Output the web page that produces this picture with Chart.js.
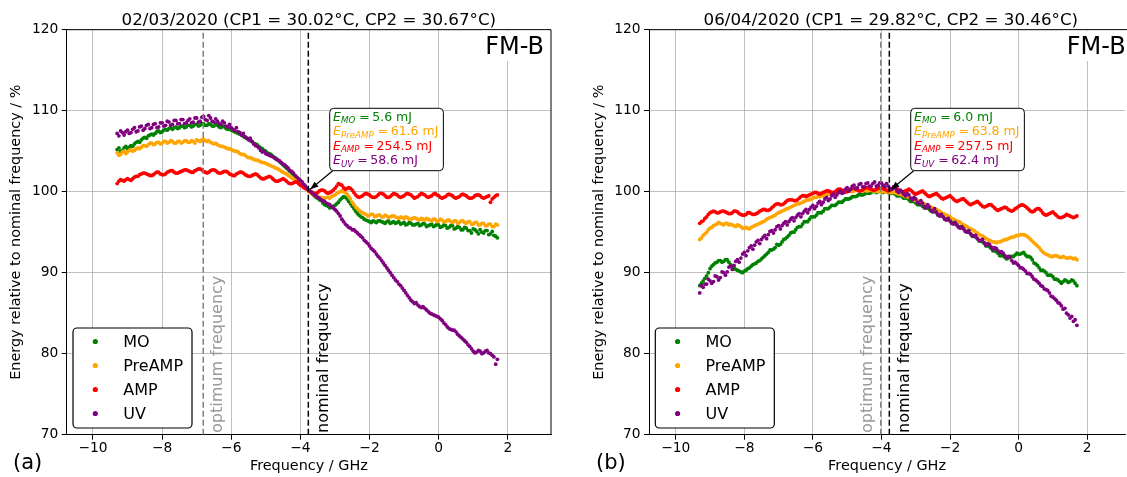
<!DOCTYPE html>
<html><head><meta charset="utf-8">
<script src="https://cdn.jsdelivr.net/npm/chart.js@4.4.1/dist/chart.umd.min.js"></script>
<style>html,body{margin:0;padding:0;background:#fff;}#wrap{position:relative;width:1127px;height:477px;background:#fff;overflow:hidden}canvas{position:absolute;top:0}#err{position:absolute;left:0;top:0;color:red;font:12px sans-serif}</style>
</head><body>
<div id="wrap"><canvas id="c1" width="585" height="477" style="left:0"></canvas><canvas id="c2" width="542" height="477" style="left:585px"></canvas><div id="err"></div></div>
<script>
const freq = [-9.3,-9.25,-9.2,-9.15,-9.1,-9.05,-9,-8.95,-8.9,-8.85,
-8.8,-8.75,-8.7,-8.65,-8.6,-8.55,-8.5,-8.45,-8.4,-8.35,
-8.3,-8.25,-8.2,-8.15,-8.1,-8.05,-8,-7.95,-7.9,-7.85,
-7.8,-7.75,-7.7,-7.65,-7.6,-7.55,-7.5,-7.45,-7.4,-7.35,
-7.3,-7.25,-7.2,-7.15,-7.1,-7.05,-7,-6.95,-6.9,-6.85,
-6.8,-6.75,-6.7,-6.65,-6.6,-6.55,-6.5,-6.45,-6.4,-6.35,
-6.3,-6.25,-6.2,-6.15,-6.1,-6.05,-6,-5.95,-5.9,-5.85,
-5.8,-5.75,-5.7,-5.65,-5.6,-5.55,-5.5,-5.45,-5.4,-5.35,
-5.3,-5.25,-5.2,-5.15,-5.1,-5.05,-5,-4.95,-4.9,-4.85,
-4.8,-4.75,-4.7,-4.65,-4.6,-4.55,-4.5,-4.45,-4.4,-4.35,
-4.3,-4.25,-4.2,-4.15,-4.1,-4.05,-4,-3.95,-3.9,-3.85,
-3.8,-3.75,-3.7,-3.65,-3.6,-3.55,-3.5,-3.45,-3.4,-3.35,
-3.3,-3.25,-3.2,-3.15,-3.1,-3.05,-3,-2.95,-2.9,-2.85,
-2.8,-2.75,-2.7,-2.65,-2.6,-2.55,-2.5,-2.45,-2.4,-2.35,
-2.3,-2.25,-2.2,-2.15,-2.1,-2.05,-2,-1.95,-1.9,-1.85,
-1.8,-1.75,-1.7,-1.65,-1.6,-1.55,-1.5,-1.45,-1.4,-1.35,
-1.3,-1.25,-1.2,-1.15,-1.1,-1.05,-1,-0.95,-0.9,-0.85,
-0.8,-0.75,-0.7,-0.65,-0.6,-0.55,-0.5,-0.45,-0.4,-0.35,
-0.3,-0.25,-0.2,-0.15,-0.1,-0.05,0,0.05,0.1,0.15,
0.2,0.25,0.3,0.35,0.4,0.45,0.5,0.55,0.6,0.65,
0.7,0.75,0.8,0.85,0.9,0.95,1,1.05,1.1,1.15,
1.2,1.25,1.3,1.35,1.4,1.45,1.5,1.55,1.6,1.65,
1.7];

const seriesNames = ['MO','PreAMP','AMP','UV'];
const seriesColors = ['#008000','#ffa500','#ff0000','#800080'];

// Panel (a) 02/03/2020
const moA = [105.2,105.4,105.0,105.1,105.4,105.6,105.3,105.5,105.7,105.6,
105.9,106.1,106.2,106.1,106.4,106.6,106.7,106.6,106.9,107.0,
107.1,107.0,107.2,107.4,107.5,107.3,107.4,107.6,107.7,107.6,
107.8,107.9,107.7,107.9,108.0,107.8,107.9,108.1,108.1,107.9,
108.0,108.2,108.2,108.0,108.1,108.3,108.3,108.1,108.2,108.4,
108.4,108.2,108.2,108.4,108.3,108.1,108.1,108.3,108.2,108.0,
107.9,108.1,108.0,107.8,107.7,107.8,107.6,107.5,107.4,107.3,
107.2,107.1,107.0,106.8,106.7,106.6,106.5,106.3,106.2,106.0,
105.9,105.8,105.6,105.4,105.3,105.1,105.0,104.8,104.7,104.6,
104.4,104.2,104.1,103.9,103.7,103.5,103.3,103.1,102.9,102.7,
102.5,102.3,102.1,101.8,101.6,101.4,101.2,101.0,100.8,100.5,
100.3,100.1,99.9,99.7,99.5,99.3,99.2,99.0,98.9,98.6,
98.4,98.3,98.2,98.0,98.1,98.2,98.3,98.5,98.7,99.0,
99.2,99.4,99.3,99.1,98.8,98.5,98.2,97.9,97.6,97.3,
97.1,96.9,96.8,96.6,96.5,96.4,96.3,96.2,96.4,96.3,
96.2,96.4,96.4,96.3,96.2,96.1,96.3,96.4,96.1,96.2,
96.3,96.1,96.2,96.3,96.0,96.1,96.2,95.9,96.0,96.2,
96.1,95.9,95.9,96.0,96.1,95.8,95.9,96.1,96.0,95.7,
95.8,95.9,96.0,95.7,95.8,96.0,95.9,95.6,95.7,95.9,
95.8,95.5,95.6,95.8,95.8,95.4,95.5,95.7,95.6,95.3,
95.3,95.6,95.5,95.2,95.2,94.9,95.4,95.3,95.1,94.8,
95.3,95.0,94.9,95.2,95.2,94.7,94.8,95.1,94.6,94.5,
94.3];
const preA = [104.8,104.5,104.6,104.9,105.0,104.7,104.9,105.1,105.2,105.0,
105.1,105.3,105.4,105.3,105.5,105.7,105.7,105.6,105.8,106.0,
106.0,105.8,105.9,106.1,106.1,105.9,106.0,106.2,106.2,106.0,
106.1,106.3,106.2,106.0,106.0,106.2,106.2,106.0,106.1,106.3,
106.3,106.1,106.1,106.3,106.2,106.0,106.4,106.3,106.2,106.4,
106.5,106.3,106.2,106.3,106.1,106.0,105.9,106.0,105.8,105.7,
105.6,105.6,105.5,105.4,105.3,105.3,105.2,105.1,105.0,105.0,
104.9,104.7,104.6,104.6,104.5,104.3,104.2,104.2,104.1,104.0,
103.9,103.9,103.8,103.7,103.6,103.6,103.5,103.4,103.3,103.2,
103.1,103.0,102.9,102.8,102.7,102.5,102.4,102.3,102.2,102.0,
101.9,101.7,101.6,101.4,101.3,101.1,101.0,100.8,100.6,100.4,
100.2,100.0,99.9,99.7,99.6,99.5,99.4,99.3,99.3,99.2,
99.2,99.3,99.3,99.2,99.4,99.5,99.6,99.8,99.9,100.0,
100.1,100.0,99.9,99.7,99.4,99.1,98.7,98.4,98.1,97.9,
97.7,97.5,97.4,97.3,97.2,97.0,97.1,97.2,97.2,96.9,
97.0,97.1,97.1,96.9,96.9,97.1,97.0,96.8,96.9,97.0,
97.0,96.9,96.8,96.7,96.9,96.8,96.7,96.9,96.8,96.6,
96.6,96.7,96.8,96.7,96.6,96.5,96.7,96.6,96.5,96.7,
96.6,96.5,96.4,96.6,96.6,96.3,96.4,96.6,96.5,96.3,
96.3,96.5,96.5,96.3,96.2,96.4,96.4,96.1,96.2,96.4,
96.4,96.2,96.1,96.3,96.3,96.0,96.0,96.2,96.2,95.9,
95.9,96.1,96.1,95.8,95.8,96.0,96.0,95.7,95.7,96.0,
95.9];
const ampA = [101.0,101.3,101.5,101.4,101.3,101.5,101.6,101.5,101.4,101.6,
101.8,101.9,101.9,102.1,102.2,102.3,102.3,102.2,102.1,102.0,
102.0,102.1,102.3,102.4,102.4,102.2,102.1,102.1,102.2,102.4,
102.5,102.6,102.6,102.4,102.3,102.3,102.4,102.5,102.6,102.7,
102.7,102.6,102.5,102.4,102.4,102.6,102.7,102.8,102.8,102.7,
102.5,102.4,102.3,102.4,102.6,102.7,102.7,102.6,102.4,102.3,
102.3,102.4,102.5,102.5,102.4,102.2,102.1,102.0,102.0,102.2,
102.3,102.4,102.4,102.3,102.1,102.0,101.9,101.9,102.0,102.1,
102.2,102.1,101.9,101.7,101.6,101.6,101.7,101.8,101.9,101.8,
101.6,101.4,101.3,101.3,101.4,101.5,101.6,101.5,101.3,101.1,
101.0,101.0,101.1,101.2,101.2,101.0,100.8,100.7,100.5,100.4,
100.3,100.1,100.0,99.9,99.8,99.8,99.9,100.1,100.2,100.2,
100.1,99.9,99.8,99.9,100.0,100.2,100.4,100.7,101.0,100.9,
100.8,100.5,100.3,100.4,100.5,100.4,100.2,99.9,99.6,99.4,
99.3,99.4,99.5,99.7,99.8,99.7,99.6,99.4,99.3,99.3,
99.4,99.6,99.8,99.8,99.7,99.5,99.3,99.3,99.4,99.6,
99.8,99.7,99.6,99.4,99.3,99.4,99.5,99.7,99.8,99.7,
99.6,99.4,99.2,99.3,99.4,99.6,99.8,99.7,99.6,99.4,
99.3,99.4,99.5,99.7,99.8,99.6,99.5,99.3,99.2,99.3,
99.4,99.6,99.7,99.6,99.5,99.3,99.2,99.3,99.4,99.6,
99.7,99.6,99.5,99.3,99.2,99.2,99.3,99.5,99.6,99.6,
99.5,99.3,99.2,99.3,99.4,99.5,98.7,99.1,99.3,99.5,
99.6];
const uvA = [107.2,106.9,107.5,107.3,107.0,107.4,107.6,107.2,107.3,107.7,
107.9,107.4,107.5,108.0,108.1,107.6,107.8,108.2,108.3,107.8,
107.9,108.3,108.4,107.9,108.0,108.5,108.5,108.1,108.2,108.7,
108.6,108.2,108.3,108.8,108.8,108.4,108.4,108.9,108.9,108.4,
108.5,108.8,109.0,108.5,108.6,109.1,109.1,108.6,108.7,109.2,
109.3,108.9,108.8,109.4,109.1,108.7,108.6,109.0,108.7,108.4,
108.3,108.7,108.5,108.1,108.0,108.3,107.9,107.7,107.6,107.9,
107.4,107.3,107.0,107.2,106.8,106.6,106.4,106.6,106.2,105.9,
105.7,105.6,105.4,105.1,104.9,105.0,104.7,104.6,104.5,104.4,
104.3,104.2,104.0,103.9,103.8,103.6,103.4,103.3,103.1,102.9,
102.6,102.5,102.3,102.0,101.8,101.6,101.4,101.2,100.9,100.7,
100.4,100.2,100.0,99.8,99.6,99.5,99.3,99.2,99.0,98.9,
98.8,98.6,98.5,98.4,98.2,98.0,97.8,97.6,97.3,97.0,
96.6,96.3,96.0,95.8,95.6,95.5,95.3,95.3,95.1,94.9,
94.7,94.5,94.3,94.0,93.8,93.6,93.3,93.0,92.8,92.6,
92.3,92.0,91.8,91.5,91.2,90.9,90.6,90.3,90.0,89.7,
89.4,89.1,88.9,88.6,88.4,88.1,87.8,87.5,87.2,86.9,
86.6,86.4,86.2,86.3,86.0,85.8,85.7,85.8,85.6,85.4,
85.2,85.0,84.9,84.8,84.7,84.6,84.5,84.3,84.1,83.8,
83.6,83.3,83.1,83.0,82.9,82.9,82.7,82.4,82.2,82.0,
81.8,81.6,81.4,81.1,80.9,80.6,80.3,80.1,80.2,80.4,
80.3,80.0,80.1,80.3,80.4,80.1,80.0,79.8,79.6,78.7,
79.3];

// Panel (b) 06/04/2020
const moB = [88.4,88.7,89.0,89.3,89.6,90.0,90.5,90.8,91.0,91.2,
91.3,91.5,91.5,91.3,91.4,91.6,91.6,91.3,91.0,90.8,
90.6,90.4,90.3,90.2,90.1,90.0,90.2,90.3,90.5,90.6,
90.8,91.0,91.1,91.2,91.4,91.5,91.7,91.9,92.1,92.3,
92.5,92.8,92.8,92.9,93.1,93.5,93.4,93.5,93.8,94.1,
94.2,94.4,94.6,94.9,95.0,95.0,95.3,95.6,95.7,95.7,
96.0,96.3,96.3,96.3,96.6,96.9,96.9,96.9,97.1,97.4,
97.4,97.4,97.6,97.9,97.9,97.9,98.1,98.3,98.3,98.3,
98.5,98.7,98.7,98.7,98.9,99.1,99.1,99.1,99.2,99.4,
99.4,99.4,99.5,99.7,99.6,99.6,99.7,99.9,99.8,99.8,
99.9,100.1,100.0,99.9,100.0,100.1,100.0,99.9,100.0,100.1,
99.9,99.8,99.8,99.8,99.7,99.5,99.5,99.6,99.4,99.2,
99.2,99.2,99.0,98.8,98.8,98.8,98.6,98.4,98.4,98.4,
98.2,98.0,98.0,98.0,97.8,97.6,97.6,97.6,97.4,97.1,
97.1,97.1,96.9,96.6,96.6,96.6,96.4,96.2,96.2,96.1,
95.9,95.7,95.7,95.6,95.4,95.1,95.1,95.0,94.8,94.5,
94.5,94.4,94.2,93.9,93.9,93.8,93.6,93.3,93.3,93.2,
93.0,92.7,92.7,92.6,92.4,92.1,92.1,92.1,91.9,91.7,
91.8,92.0,92.0,92.0,92.2,92.4,92.3,92.3,92.4,92.5,
92.2,92.0,92.0,91.9,91.6,91.2,91.1,90.9,90.6,90.3,
90.3,90.2,90.0,89.7,89.7,89.7,89.5,89.2,89.2,89.1,
88.9,88.7,88.9,89.1,89.0,88.8,88.9,89.1,89.0,88.7,
88.4];
const preB = [94.1,94.3,94.6,94.8,95.0,95.3,95.5,95.6,95.8,95.9,
96.0,96.2,96.1,96.0,95.9,96.1,96.1,95.9,96.0,95.9,
95.8,95.7,95.9,95.8,95.7,95.5,95.5,95.6,95.5,95.4,
95.6,95.7,95.8,95.9,96.0,96.1,96.2,96.3,96.4,96.6,
96.7,96.8,96.9,97.0,97.1,97.3,97.4,97.5,97.6,97.7,
97.8,97.9,98.0,98.1,98.2,98.3,98.4,98.5,98.5,98.6,
98.7,98.8,98.9,99.0,99.0,99.1,99.2,99.3,99.3,99.4,
99.4,99.5,99.5,99.6,99.6,99.7,99.7,99.8,99.8,99.8,
99.9,99.9,99.9,100.0,100.0,100.0,100.0,100.1,100.1,100.0,
100.1,100.2,100.2,100.1,100.1,100.2,100.2,100.1,100.1,100.2,
100.2,100.1,100.1,100.0,100.1,100.1,100.0,100.0,100.0,100.0,
100.0,99.9,99.9,99.9,99.9,99.8,99.7,99.7,99.6,99.5,
99.4,99.4,99.3,99.2,99.1,99.0,98.9,98.9,98.8,98.7,
98.6,98.5,98.4,98.3,98.2,98.1,98.0,97.9,97.8,97.7,
97.6,97.4,97.3,97.2,97.1,97.0,96.9,96.7,96.6,96.5,
96.4,96.3,96.2,96.0,95.9,95.8,95.7,95.5,95.4,95.3,
95.2,95.0,94.9,94.7,94.6,94.5,94.4,94.2,94.1,94.0,
93.9,93.8,93.8,93.7,93.8,93.8,93.9,94.0,94.1,94.1,
94.2,94.3,94.4,94.4,94.5,94.6,94.6,94.7,94.7,94.7,
94.6,94.5,94.3,94.1,93.9,93.7,93.5,93.3,93.1,92.8,
92.6,92.4,92.3,92.2,92.1,92.0,92.0,92.1,92.1,92.0,
91.9,91.9,92.0,91.9,91.8,91.8,91.9,91.8,91.7,91.8,
91.6];
const ampB = [96.1,96.3,96.4,96.7,96.9,97.2,97.4,97.5,97.6,97.5,
97.4,97.4,97.5,97.6,97.6,97.5,97.4,97.3,97.3,97.4,
97.6,97.6,97.5,97.3,97.2,97.1,97.1,97.2,97.4,97.4,
97.3,97.2,97.2,97.3,97.4,97.6,97.7,97.8,97.8,97.7,
97.7,97.8,98.0,98.2,98.4,98.5,98.5,98.4,98.4,98.5,
98.7,98.9,99.0,99.0,99.0,98.9,98.9,99.0,99.2,99.4,
99.5,99.5,99.4,99.5,99.6,99.7,99.8,99.9,99.9,99.8,
99.7,99.8,99.9,100.0,100.1,100.1,100.0,99.9,99.9,100.0,
100.2,100.3,100.3,100.2,100.1,100.0,100.0,100.1,100.3,100.4,
100.4,100.3,100.2,100.1,100.1,100.2,100.4,100.5,100.5,100.4,
100.3,100.2,100.2,100.3,100.4,100.5,100.5,100.4,100.3,100.2,
100.1,100.2,100.3,100.4,100.5,100.4,100.2,100.1,100.0,100.0,
100.1,100.2,100.3,100.2,100.0,99.8,99.7,99.8,99.9,100.0,
100.1,99.9,99.7,99.5,99.4,99.5,99.6,99.7,99.8,99.6,
99.4,99.2,99.1,99.2,99.3,99.4,99.5,99.3,99.1,98.9,
98.8,98.9,99.0,99.1,99.1,98.9,98.7,98.5,98.4,98.5,
98.6,98.7,98.8,98.6,98.4,98.2,98.1,98.2,98.3,98.4,
98.4,98.2,98.0,97.8,97.7,97.8,97.9,98.0,98.1,98.0,
97.8,97.7,97.6,97.7,97.9,98.0,98.2,98.3,98.4,98.3,
98.2,98.0,97.8,97.6,97.5,97.6,97.8,97.9,97.9,97.7,
97.4,97.2,97.1,97.2,97.3,97.4,97.5,97.3,97.1,96.9,
96.8,96.8,96.9,97.0,97.2,97.1,97.0,96.9,96.8,96.9,
97.0];
const uvB = [87.5,88.4,88.2,88.6,88.6,89.2,89.0,88.7,88.9,89.6,
89.5,89.1,89.4,90.1,90.0,89.7,90.1,90.7,90.8,90.4,
90.9,91.4,91.6,91.3,91.8,92.3,92.5,92.1,92.7,93.1,
93.3,92.9,93.4,93.8,94.0,93.6,94.1,94.4,94.6,94.2,
94.7,95.1,95.2,94.9,95.3,95.7,95.8,95.4,95.8,96.1,
96.3,95.9,96.3,96.6,96.8,96.4,96.8,97.1,97.3,96.9,
97.3,97.6,97.8,97.4,97.8,98.1,98.3,97.9,98.2,98.6,
98.8,98.4,98.7,99.1,99.3,98.9,99.1,99.5,99.7,99.3,
99.6,99.9,100.1,99.8,99.9,100.3,100.5,100.1,100.3,100.7,
100.8,100.4,100.5,100.9,101.0,100.6,100.6,101.0,101.1,100.7,
100.7,101.0,101.2,100.7,100.8,101.1,101.1,100.8,100.6,101.0,
100.7,100.4,100.3,100.6,100.4,100.1,99.9,100.2,100.0,99.7,
99.5,99.8,99.6,99.2,99.0,99.3,99.1,98.7,98.5,98.9,
98.6,98.2,98.0,98.4,98.1,97.7,97.5,97.9,97.5,97.2,
97.0,97.2,96.9,96.6,96.5,96.7,96.4,96.1,96.0,96.2,
95.9,95.6,95.5,95.7,95.4,95.1,95.0,95.2,94.8,94.6,
94.5,94.6,94.2,94.0,94.0,94.1,93.7,93.4,93.6,93.5,
93.2,92.9,93.1,93.0,92.7,92.5,92.6,92.4,92.1,91.9,
92.0,91.9,91.5,91.2,91.3,91.1,90.9,90.6,90.6,90.4,
90.2,89.9,89.9,89.8,89.5,89.2,89.1,88.9,88.7,88.4,
88.3,88.0,87.9,87.8,87.5,87.1,87.0,86.8,86.6,86.3,
86.2,85.9,85.5,85.6,85.0,84.8,84.4,84.6,84.0,84.2,
83.5];

const energiesA = [5.6, 61.6, 254.5, 58.6];
const energiesB = [6.0, 63.8, 257.5, 62.4];
const titleA = '02/03/2020 (CP1 = 30.02°C, CP2 = 30.67°C)';
const titleB = '06/04/2020 (CP1 = 29.82°C, CP2 = 30.46°C)';
const optimumA = -6.81, optimumB = -4.02, nominalFreq = -3.77;

const xTicks = [-10,-8,-6,-4,-2,0,2];
const xTickLabels = ['\u221210','\u22128','\u22126','\u22124','\u22122','0','2'];
const yTicks = [70,80,90,100,110,120];
const yTickLabels = ['70','80','90','100','110','120'];

const FONT = '"DejaVu Sans", sans-serif';

[moA,preA,ampA,uvA,moB,preB,ampB,uvB].forEach((a,i)=>{ if (a.length !== freq.length) document.getElementById('err').textContent += ' len'+i+'='+a.length; });

function rr(ctx,x,y,w,h,r){ctx.beginPath();ctx.moveTo(x+r,y);ctx.lineTo(x+w-r,y);ctx.arcTo(x+w,y,x+w,y+r,r);ctx.lineTo(x+w,y+h-r);ctx.arcTo(x+w,y+h,x+w-r,y+h,r);ctx.lineTo(x+r,y+h);ctx.arcTo(x,y+h,x,y+h-r,r);ctx.lineTo(x,y+r);ctx.arcTo(x,y,x+r,y,r);ctx.closePath();}

const decor = {
  id: 'decor',
  afterDraw(chart, args, o) {
    const ctx = chart.ctx, ca = chart.chartArea, xs = chart.scales.x, ys = chart.scales.y;
    ctx.save();
    ctx.strokeStyle = '#000'; ctx.lineWidth = 1;
    ctx.beginPath();
    ctx.moveTo(ca.left, ca.top);
    ctx.lineTo(o.rightSpine ? ca.right : chart.width, ca.top);
    if (o.rightSpine) ctx.lineTo(ca.right, ca.bottom);
    ctx.stroke();
    ctx.fillStyle = '#000'; ctx.textBaseline = 'alphabetic';
    ctx.font = '16.7px ' + FONT; ctx.textAlign = 'center';
    ctx.fillText(o.title, (ca.left + o.fullRight) / 2, 25);
    ctx.font = '24px ' + FONT;
    const fw = ctx.measureText('FM-B').width, fr = o.fullRight - 7;
    ctx.fillStyle = '#fff'; ctx.fillRect(fr - fw - 4, ca.top + 1, fw + 8, 61 - ca.top - 1);
    ctx.fillStyle = '#000'; ctx.textAlign = 'right'; ctx.fillText('FM-B', fr, 54);
    ctx.textAlign = 'left'; ctx.font = '21px ' + FONT; ctx.fillText(o.panel, o.panelX, 469);
    ctx.font = '16px ' + FONT;
    const po = xs.getPixelForValue(o.opt), pn = xs.getPixelForValue(o.nom);
    const labs = [[o.optLeft ? po - 8.5 : po + 19, '#999999', 'optimum frequency'], [pn + 19.5, '#000000', 'nominal frequency']];
    labs.forEach(([bx, col, txt]) => {
      ctx.save(); ctx.translate(bx, 433); ctx.rotate(-Math.PI / 2);
      ctx.fillStyle = col; ctx.textAlign = 'left'; ctx.fillText(txt, 0, 0); ctx.restore();
    });
    const py = ys.getPixelForValue(100);
    const bx = pn + 21.4, by = py - 83.4;
    const lines = seriesNames.map((n, k) => ({n, col: seriesColors[k], rest: ' =\u2009' + o.energies[k].toFixed(1) + ' mJ'}));
    let maxW = 0;
    lines.forEach(l => {
      ctx.font = 'italic 12.5px ' + FONT; const a = ctx.measureText('E').width;
      ctx.font = 'italic 8.7px ' + FONT; const b = ctx.measureText(l.n).width;
      ctx.font = '12.5px ' + FONT; const c = ctx.measureText(l.rest).width;
      l.wa = a; l.wb = b; maxW = Math.max(maxW, a + b + c);
    });
    const bw = maxW + 3.3 + 5, bh = 62.4;
    const tx = pn + 2, ty = py - 2.5, sx = bx + 3, sy = by + bh;
    ctx.strokeStyle = '#000'; ctx.lineWidth = 1.2;
    ctx.beginPath(); ctx.moveTo(sx, sy); ctx.lineTo(tx, ty); ctx.stroke();
    const ang = Math.atan2(ty - sy, tx - sx), hl = 8, hw = 3.2;
    ctx.fillStyle = '#000'; ctx.beginPath(); ctx.moveTo(tx, ty);
    ctx.lineTo(tx - hl * Math.cos(ang) + hw * Math.sin(ang), ty - hl * Math.sin(ang) - hw * Math.cos(ang));
    ctx.lineTo(tx - hl * Math.cos(ang) - hw * Math.sin(ang), ty - hl * Math.sin(ang) + hw * Math.cos(ang));
    ctx.closePath(); ctx.fill();
    rr(ctx, bx, by, bw, bh, 4); ctx.fillStyle = '#fff'; ctx.fill(); ctx.lineWidth = 1; ctx.strokeStyle = '#000'; ctx.stroke();
    lines.forEach((l, i) => {
      const yb = by + 12.4 + i * 14.5; let x = bx + 3.3;
      ctx.fillStyle = l.col; ctx.textAlign = 'left';
      ctx.font = 'italic 12.5px ' + FONT; ctx.fillText('E', x, yb); x += l.wa;
      ctx.font = 'italic 8.7px ' + FONT; ctx.fillText(l.n, x, yb + 2.6); x += l.wb;
      ctx.font = '12.5px ' + FONT; ctx.fillText(l.rest, x, yb);
    });
    const lx = ca.left + 6.3, ly = 328, lw = 119, lh = 100;
    rr(ctx, lx, ly, lw, lh, 4); ctx.fillStyle = '#fff'; ctx.fill(); ctx.strokeStyle = '#000'; ctx.lineWidth = 1.2; ctx.stroke();
    ctx.font = '16px ' + FONT;
    seriesNames.forEach((n, i) => {
      const cy = 341.5 + i * 24;
      ctx.fillStyle = seriesColors[i]; ctx.beginPath(); ctx.arc(lx + 22.3, cy, 2.6, 0, Math.PI * 2); ctx.fill();
      ctx.fillStyle = '#000'; ctx.fillText(n, lx + 50.2, cy + 5.8);
    });
    ctx.restore();
  }
};

function makeChart(id, p) {
  const ds = p.vals.map((v, k) => ({
    label: seriesNames[k],
    data: freq.map((f, i) => ({x: f, y: v[i]})),
    backgroundColor: seriesColors[k], borderWidth: 0,
    pointRadius: 1.9, pointHoverRadius: 1.9, order: 4 - k
  }));
  ds.push({type: 'line', label: 'optimum', data: [{x: p.opt, y: 70}, {x: p.opt, y: 120}], borderColor: '#808080', borderDash: [6, 3], borderWidth: 1.5, pointRadius: 0, showLine: true, order: 0});
  ds.push({type: 'line', label: 'nominal', data: [{x: nominalFreq, y: 70}, {x: nominalFreq, y: 120}], borderColor: '#000000', borderDash: [6, 3], borderWidth: 1.5, pointRadius: 0, showLine: true, order: 0});
  return new Chart(document.getElementById(id), {
    type: 'scatter',
    data: {datasets: ds},
    options: {
      responsive: false, animation: false, devicePixelRatio: 1, events: [],
      layout: {padding: {left: 0, top: 29.7, right: p.padRight, bottom: 0}},
      plugins: {legend: {display: false}, tooltip: {enabled: false}, decor: p.decor},
      scales: {
        x: {
          type: 'linear', min: p.xmin, max: p.xmax,
          afterFit: s => { s.height = 42.3; },
          afterBuildTicks: s => { s.ticks = xTicks.map(v => ({value: v})); },
          grid: {color: '#b0b0b0', lineWidth: 0.8, tickColor: '#000', tickLength: 5, tickWidth: 1},
          border: {display: true, color: '#000', width: 1},
          ticks: {color: '#000', font: {family: 'DejaVu Sans', size: 13.8}, padding: 0, maxRotation: 0, autoSkip: false,
                  callback: (v, i) => xTickLabels[i]},
          title: {display: true, text: 'Frequency / GHz', color: '#000', font: {family: 'DejaVu Sans', size: 14.4}, padding: {top: 0, bottom: 2.3}}
        },
        y: {
          type: 'linear', min: 70, max: 120,
          afterFit: s => { s.width = p.yWidth; },
          afterBuildTicks: s => { s.ticks = yTicks.map(v => ({value: v})); },
          grid: {color: '#b0b0b0', lineWidth: 0.8, tickColor: '#000', tickLength: 5, tickWidth: 1},
          border: {display: true, color: '#000', width: 1},
          ticks: {color: '#000', font: {family: 'DejaVu Sans', size: 13.8}, padding: 3.4, autoSkip: false,
                  callback: (v, i) => yTickLabels[i]},
          title: {display: true, text: 'Energy relative to nominal frequency / %', color: '#000', font: {family: 'DejaVu Sans', size: 14.4}, padding: {top: p.yTitlePad, bottom: 0}}
        }
      }
    },
    plugins: [decor]
  });
}

makeChart('c1', {
  vals: [moA, preA, ampA, uvA], opt: optimumA, xmin: -10.76, xmax: 3.25,
  padRight: 585 - 551, yWidth: 66.7, yTitlePad: 8.1,
  decor: {title: titleA, fullRight: 551, rightSpine: true, panel: '(a)', panelX: 13, opt: optimumA, nom: nominalFreq, optLeft: false, energies: energiesA}
});
makeChart('c2', {
  vals: [moB, preB, ampB, uvB], opt: optimumB, xmin: -10.78, xmax: 3.107,
  padRight: 0, yWidth: 64, yTitlePad: 5.4,
  decor: {title: titleB, fullRight: 1132.6 - 585, rightSpine: false, panel: '(b)', panelX: 11, opt: optimumB, nom: nominalFreq, optLeft: true, energies: energiesB}
});
</script>
</body></html>
